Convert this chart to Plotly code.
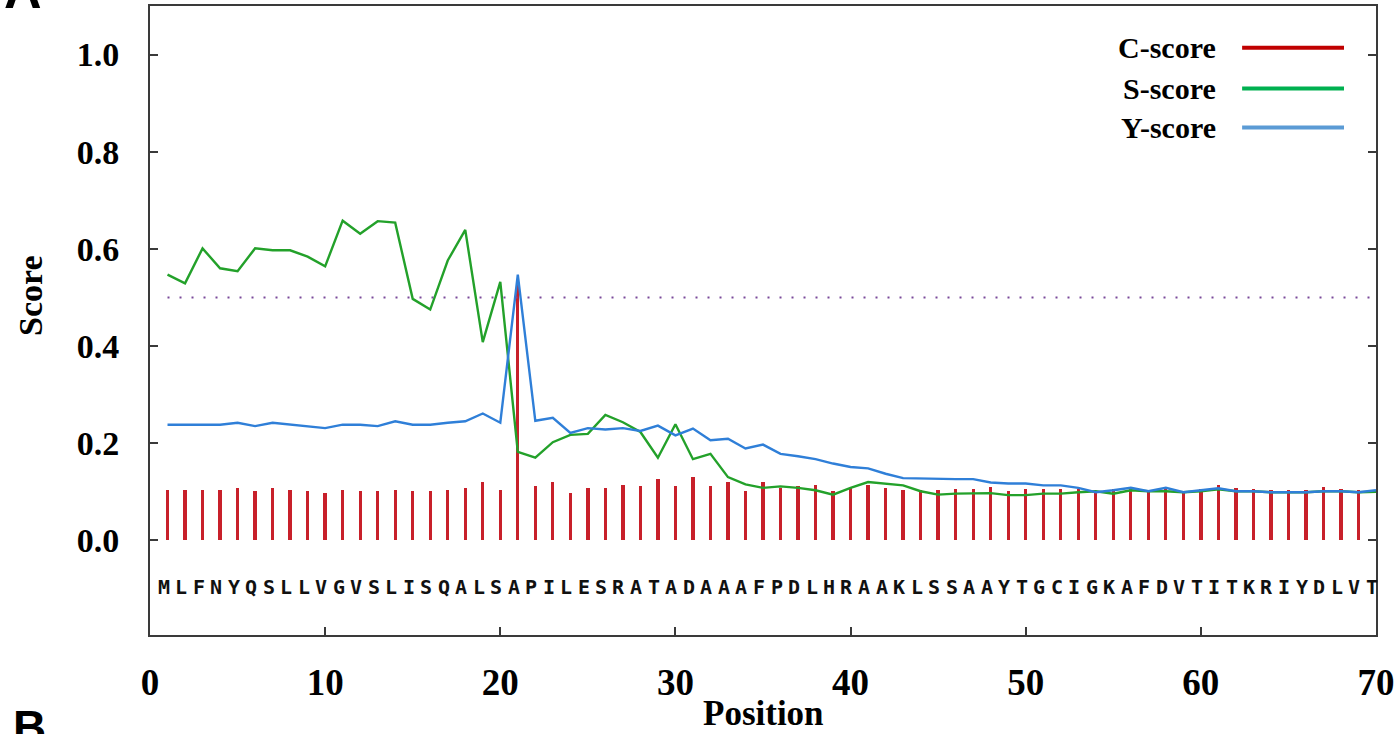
import plotly.graph_objects as go

# ---------------- data ----------------
SEQUENCE = "MLFNYQSLLVGVSLISQALSAPILESRATADAAAFPDLHRAAKLSSAAYTGCIGKAFDVTITKRIYDLVT"
positions = list(range(1, 71))
c_positions = list(range(1, 70))

c_score = [0.104, 0.104, 0.104, 0.104, 0.107, 0.101, 0.107, 0.104, 0.101, 0.098,
           0.104, 0.101, 0.101, 0.104, 0.101, 0.101, 0.104, 0.107, 0.119, 0.104,
           0.530, 0.111, 0.121, 0.097, 0.108, 0.108, 0.114, 0.111, 0.127, 0.111,
           0.130, 0.111, 0.121, 0.101, 0.121, 0.108, 0.111, 0.114, 0.101, 0.108,
           0.114, 0.108, 0.104, 0.104, 0.104, 0.106, 0.106, 0.110, 0.101, 0.106,
           0.106, 0.106, 0.106, 0.099, 0.106, 0.108, 0.103, 0.108, 0.099, 0.106,
           0.113, 0.108, 0.106, 0.103, 0.103, 0.103, 0.110, 0.106, 0.103]

s_score = [0.547, 0.529, 0.601, 0.560, 0.554, 0.601, 0.597, 0.597, 0.584, 0.564,
           0.658, 0.631, 0.657, 0.654, 0.497, 0.475, 0.576, 0.639, 0.408, 0.532,
           0.182, 0.170, 0.202, 0.217, 0.219, 0.258, 0.243, 0.223, 0.170, 0.239,
           0.167, 0.178, 0.130, 0.115, 0.108, 0.111, 0.108, 0.103, 0.094, 0.108,
           0.120, 0.117, 0.113, 0.101, 0.094, 0.096, 0.096, 0.097, 0.093, 0.093,
           0.096, 0.096, 0.099, 0.101, 0.096, 0.103, 0.101, 0.101, 0.099, 0.101,
           0.105, 0.101, 0.101, 0.099, 0.099, 0.099, 0.101, 0.101, 0.099, 0.100]

y_score = [0.238, 0.238, 0.238, 0.238, 0.242, 0.235, 0.242, 0.238, 0.235, 0.231,
           0.238, 0.238, 0.235, 0.245, 0.238, 0.238, 0.242, 0.245, 0.261, 0.242,
           0.547, 0.246, 0.252, 0.221, 0.231, 0.228, 0.231, 0.225, 0.236, 0.216,
           0.230, 0.206, 0.209, 0.189, 0.197, 0.178, 0.173, 0.167, 0.158, 0.151,
           0.148, 0.137, 0.128, 0.127, 0.126, 0.126, 0.126, 0.119, 0.117, 0.117,
           0.113, 0.113, 0.108, 0.099, 0.103, 0.108, 0.101, 0.108, 0.099, 0.103,
           0.107, 0.101, 0.101, 0.099, 0.099, 0.099, 0.101, 0.101, 0.099, 0.103]

CUTOFF = 0.5
x_ticks = [0, 10, 20, 30, 40, 50, 60, 70]
y_ticks = [0.0, 0.2, 0.4, 0.6, 0.8, 1.0]
legend_names = ["C-score", "S-score", "Y-score"]

# ---------------- style ----------------
RED = "#c8202a"
GREEN = "#23a12a"
BLUE = "#2f7fd8"
LEG_COLORS = ["#c00000", "#00b050", "#5b9bd5"]
SERIF = "Liberation Serif"
AXIS_COLOR = "#3a3a3a"
SEQ_Y = -0.097

fig = go.Figure()

fig.add_trace(go.Bar(x=c_positions, y=c_score, width=0.19,
                     marker=dict(color=RED, line=dict(width=0)),
                     name="C-score"))
fig.add_trace(go.Scatter(x=positions, y=s_score, mode="lines",
                         line=dict(color=GREEN, width=2.4), name="S-score"))
fig.add_trace(go.Scatter(x=positions, y=y_score, mode="lines",
                         line=dict(color=BLUE, width=2.4), name="Y-score"))

# cutoff dotted line
fig.add_shape(type="line", xref="x", yref="y", x0=positions[0], x1=positions[-1],
              y0=CUTOFF, y1=CUTOFF,
              line=dict(color="#7a4a9a", width=2, dash="2px,10px"))

annotations = []
# sequence letters
for p, aa in zip(positions, SEQUENCE):
    annotations.append(dict(x=p, y=SEQ_Y, xref="x", yref="y", text=aa,
                            showarrow=False, xshift=-4,
                            font=dict(family="DejaVu Sans Mono", size=20,
                                      color="#111", weight="bold")))

# manual legend (text left of line)
leg_y = [0.9335, 0.8687, 0.8070]
for name, col, ly in zip(legend_names, LEG_COLORS, leg_y):
    annotations.append(dict(x=0.8715, y=ly, xref="paper", yref="paper",
                            text=name, showarrow=False, xanchor="right",
                            yanchor="middle",
                            font=dict(family=SERIF, size=30, color="black",
                                      weight="bold")))
    fig.add_shape(type="line", xref="paper", yref="paper",
                  x0=0.8908, x1=0.9739, y0=ly, y1=ly,
                  line=dict(color=col, width=4))

# x-axis title
annotations.append(dict(x=0.5, y=-0.1255, xref="paper", yref="paper",
                        text="Position", showarrow=False,
                        xanchor="center", yanchor="middle",
                        font=dict(family=SERIF, size=35, color="black",
                                  weight="bold")))
# y-axis title
annotations.append(dict(x=-0.0979, y=0.5405, xref="paper", yref="paper",
                        text="Score", showarrow=False, textangle=-90,
                        xanchor="center", yanchor="middle",
                        font=dict(family=SERIF, size=34, color="black",
                                  weight="bold")))

# panel labels (partially cropped, as in the source figure)
annotations.append(dict(x=-0.1036, y=1.0254, xref="paper", yref="paper", text="A",
                        showarrow=False, xanchor="center", yanchor="middle",
                        font=dict(family="Liberation Sans", size=52,
                                  color="black", weight="bold")))
annotations.append(dict(x=-0.0979, y=-0.1463, xref="paper", yref="paper", text="B",
                        showarrow=False, xanchor="center", yanchor="middle",
                        font=dict(family="Liberation Sans", size=46,
                                  color="black", weight="bold")))

fig.update_layout(
    width=1396, height=734,
    margin=dict(l=150, r=20, t=6, b=99, autoexpand=False),
    paper_bgcolor="white", plot_bgcolor="white",
    showlegend=False,
    bargap=0,
    annotations=annotations,
    xaxis=dict(range=[0, 70], tickvals=x_ticks, ticktext=[str(v) for v in x_ticks],
               ticks="inside", ticklen=8, tickwidth=2, tickcolor=AXIS_COLOR,
               showline=True, linecolor=AXIS_COLOR, linewidth=2, mirror=True,
               showgrid=False, zeroline=False, automargin=False,
               ticklabelstandoff=14,
               tickfont=dict(family=SERIF, size=37, color="black", weight="bold")),
    yaxis=dict(range=[-0.195, 1.1], tickvals=y_ticks, tickformat=".1f",
               ticks="inside", ticklen=8, tickwidth=2, tickcolor=AXIS_COLOR,
               showline=True, linecolor=AXIS_COLOR, linewidth=2, mirror="ticks",
               showgrid=False, zeroline=False, automargin=False,
               ticklabelstandoff=22,
               tickfont=dict(family=SERIF, size=34, color="black", weight="bold")),
)

fig.write_html(
    "out.html",
    config={"displayModeBar": False},
    post_script="document.body.style.margin='0';document.body.style.overflow='hidden';",
)
